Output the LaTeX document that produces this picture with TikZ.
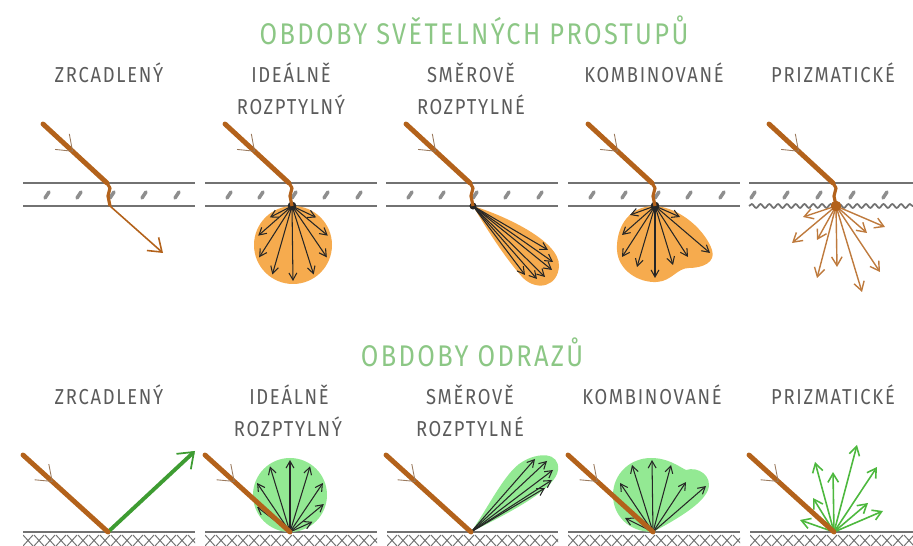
\documentclass[tikz,border=0pt]{standalone}
\usepackage{fontspec}
\setmainfont{Fira Sans}
\newfontfamily\capsfont{Fira Sans}[FakeStretch=0.85, LetterSpace=8]
\usepackage{tikz}
\usetikzlibrary{calc}
\usetikzlibrary{arrows.meta}
\usetikzlibrary{decorations.markings}
\usetikzlibrary{decorations.pathmorphing}

\definecolor{raybrown}{HTML}{B3621B}
\definecolor{barbgray}{HTML}{9A7A5E}
\definecolor{orangefill}{HTML}{F6AB4E}
\definecolor{greenfill}{HTML}{93E993}
\definecolor{raygreen}{HTML}{3E9C32}
\definecolor{fangreen}{HTML}{4DB83E}
\definecolor{fandark}{HTML}{262626}
\definecolor{titlegreen}{HTML}{8CC785}
\definecolor{textgray}{HTML}{5B5B5B}
\definecolor{glassgray}{HTML}{727272}

\begin{document}
\begin{tikzpicture}[x=0.02cm, y=-0.02cm,
    heading/.style={font=\capsfont\fontsize{17}{19}\selectfont, text=titlegreen, anchor=base, inner sep=0pt},
    caption/.style={font=\capsfont\fontsize{12.3}{14}\selectfont, text=textgray, anchor=base, inner sep=0pt},
    incident/.style={draw=raybrown, line width=2.8pt, line cap=round, postaction={decorate},
        decoration={markings, mark=at position #1 with {\arrow[barbgray]{Straight Barb[length=8pt, width=12pt, line width=0.5pt 0]}}}},
    refracted/.style={draw=raybrown, line width=1.8pt, line join=round},
    exitray/.style={draw=raybrown, line width=0.9pt, -{Straight Barb[length=7pt, width=10pt]}},
    bounce/.style={draw=raygreen, line width=2.2pt, -{Straight Barb[length=8pt, width=12pt, line width=1pt 0]}},
    fan/.style={draw=fandark, line width=0.6pt, -{Straight Barb[length=4pt, width=4.5pt]}},
    prismray/.style={draw=raybrown!85, line width=0.8pt, -{Straight Barb[length=5pt, width=6pt]}},
    prismgreen/.style={draw=fangreen, line width=0.9pt, -{Straight Barb[length=5pt, width=6pt]}},
    glassline/.style={draw=glassgray, line width=1pt},
    glassdot/.style={draw=glassgray!80, line width=2pt, line cap=round},
    hatch/.style={draw=glassgray, line width=0.55pt},
    spot/.style={circle, inner sep=0pt, minimum size=#1}]

    \useasboundingbox (0,0) rectangle (913,546);

    % ---------- titles and labels
    \node[heading] (t1) at (474,45) {OBDOBY SVĚTELNÝCH PROSTUPŮ};
    \node[caption] (z1) at (109,83) {ZRCADLENÝ};
    \node[caption] (i1) at (291,83) {IDEÁLNĚ};
    \node[caption] (i1b) at (291,115) {ROZPTYLNÝ};
    \node[caption] (s1) at (471,83) {SMĚROVĚ};
    \node[caption] (s1b) at (471,115) {ROZPTYLNÉ};
    \node[caption] (k1) at (654,83) {KOMBINOVANÉ};
    \node[caption] (m1) at (833,83) {PRIZMATICKÉ};

    \node[heading] (t2) at (472,367) {OBDOBY ODRAZŮ};
    \node[caption] (z2) at (109,405) {ZRCADLENÝ};
    \node[caption] (i2) at (289,405) {IDEÁLNĚ};
    \node[caption] (i2b) at (288,437) {ROZPTYLNÝ};
    \node[caption] (s2) at (470,405) {SMĚROVĚ};
    \node[caption] (s2b) at (470,437) {ROZPTYLNÉ};
    \node[caption] (k2) at (652,405) {KOMBINOVANÉ};
    \node[caption] (m2) at (833,405) {PRIZMATICKÉ};

    % ---------- points of both rows
    \foreach \s [count=\i] in {23,205,386,568,749} {
        \coordinate (a\i) at (\s+20,124);
        \coordinate (e\i) at (\s+84,183);
        \coordinate (p\i) at (\s+87,206);
        \coordinate (b\i) at (\s,455);
        \coordinate (q\i) at (\s+85,532);
    }
    \coordinate (c2) at (293,245);
    \coordinate (d2) at (290,495);

    % ---------- glass layers
    \foreach \s in {23,205,386,568} {
        \draw[glassline] (\s,183) -- (\s+172,183);
        \draw[glassline] (\s,206) -- (\s+172,206);
        \foreach \x in {24,56,89,121,154}
            \draw[glassdot] (\s+\x-2,198) -- (\s+\x+2,192);
    }
    \draw[glassline] (749,183) -- (913,183);
    \draw[glassline, decorate, decoration={snake, amplitude=1.1pt, segment length=5pt}] (749,206) -- (913,206);
    \foreach \x in {753,786,819,852,885}
        \draw[glassdot] (\x-2,198) -- (\x+2,192);

    % ---------- grounds
    \foreach \s/\w in {23/172,205/172,387/171,568/172,750/163} {
        \draw[glassline] (\s,532) -- (\s+\w,532);
        \begin{scope}
            \clip (\s,534) rectangle (\s+\w,546);
            \foreach \x in {0,11,...,176}
                \draw[hatch] (\s+\x,535) -- ++(5,5.5) -- ++(-5,5.5) (\s+\x+10,535) -- ++(-5,5.5) -- ++(5,5.5);
        \end{scope}
    }

    % ---------- transmission: fills
    \fill[orangefill] (c2) circle [radius=39];
    \fill[orangefill] (p3) .. controls (500,214) and (560,240) .. (559,266)
        .. controls (558,286) and (538,292) .. (523,278)
        .. controls (505,258) and (486,228) .. (p3);
    \fill[orangefill] (p4) .. controls (625,206) and (616,232) .. (617,250)
        .. controls (618,270) and (638,283) .. (657,282)
        .. controls (672,281) and (677,268) .. (689,268)
        .. controls (703,268) and (716,262) .. (712,250)
        .. controls (706,232) and (682,208) .. (p4);

    % ---------- transmission: fans
    \foreach \a in {230,195,160,125,90,55,20,-15,-50}
        \draw[fan] (p2) -- ($(c2)+(\a:36)$);
    \foreach \t in {(548,250),(553,262),(552,270),(545,277),(537,279),(525,275)}
        \draw[fan] (p3) -- \t;
    \foreach \t in {(630,215),(622,235),(622,257),(637,267),(655,278),(673,265),(688,257),(710,253),(680,217)}
        \draw[fan] (p4) -- \t;
    \foreach \t in {(803,217),(792,243),(817,240),(817,278),(837,267),(862,292),(880,272),(867,233),(885,227)}
        \draw[prismray] (p5) -- \t;
    \node[spot=5pt, fill=fandark] (o2) at (p2) {};
    \node[spot=5pt, fill=fandark] (o4) at (p4) {};
    \node[spot=4pt, fill=fandark] (o3) at (p3) {};
    \node[spot=6pt, fill=raybrown] (o5) at (p5) {};

    % ---------- transmission: rays
    \coordinate (x1) at (163,253);
    \draw[exitray] (p1) -- (x1);
    \foreach \i in {1,...,5} {
        \draw[refracted] (e\i) -- ++(3,5) -- ++(-2,8) -- (p\i);
        \draw[incident=0.47] (a\i) -- (e\i);
    }

    % ---------- reflection: fills
    \fill[greenfill] (d2) circle [radius=37];
    \fill[greenfill] (q3) .. controls (488,508) and (505,472) .. (522,462)
        .. controls (538,452) and (560,452) .. (558,470)
        .. controls (556,488) and (515,510) .. (q3);
    \fill[greenfill] (q4) .. controls (628,532) and (613,515) .. (613,495)
        .. controls (613,474) and (630,458) .. (651,458)
        .. controls (668,458) and (678,466) .. (686,470)
        .. controls (698,466) and (713,476) .. (708,490)
        .. controls (702,505) and (675,520) .. (q4);

    % ---------- reflection: fans
    \foreach \a in {160,200,235,270,305,340,15,50}
        \draw[fan] (q2) -- ($(d2)+(\a:35)$);
    \foreach \t in {(535,459),(547,461),(553,470),(552,480),(545,488)}
        \draw[fan] (q3) -- \t;
    \foreach \t in {(625,518),(620,483),(632,465),(652,460),(671,465),(686,482),(706,486)}
        \draw[fan] (q4) -- \t;
    \foreach \t in {(800,520),(813,498),(815,462),(833,472),(857,445),(877,467),(868,503),(883,511)}
        \draw[prismgreen] (q5) -- \t;

    % ---------- reflection: rays
    \coordinate (g1) at (195,451);
    \draw[bounce] (q1) -- (g1);
    \foreach \i in {1,...,5}
        \draw[incident=0.35] (b\i) -- (q\i);

\end{tikzpicture}
\end{document}
